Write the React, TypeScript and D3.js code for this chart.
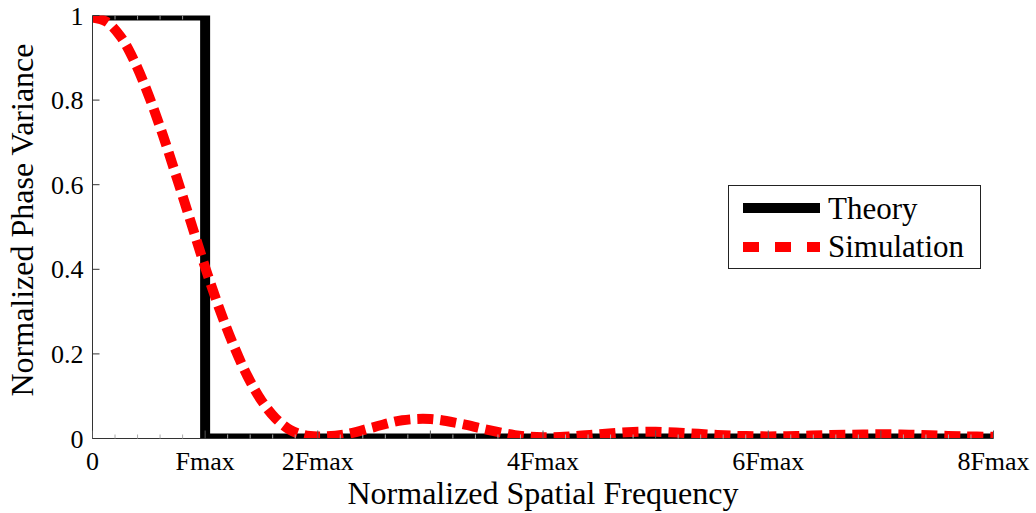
import React from "react";
import * as d3 from "d3";

const W = 1036;
const H = 513;

// Theory: ideal low-pass (1 up to Fmax, 0 beyond)
const theoryX = [0, 1, 1, 8];
const theoryY = [1, 1, 0, 0];

// Simulation, x in units of Fmax
const simX = [0, 0.125, 0.25, 0.375, 0.5, 0.625, 0.75, 0.875, 1.0, 1.125, 1.25, 1.375, 1.5, 1.625, 1.75, 1.875, 2.0,
  2.25, 2.5, 2.75, 3.0, 3.25, 3.5, 3.75, 4.0, 4.25, 4.5, 4.75, 5.0, 5.25, 5.5, 5.75, 6.0, 6.25, 6.5, 6.75, 7.0, 7.25, 7.5, 7.75, 8.0];
const simY = [0.995, 0.985, 0.95, 0.89, 0.81, 0.717, 0.615, 0.51, 0.405, 0.308, 0.222, 0.148, 0.09, 0.048, 0.021, 0.008, 0.005,
  0.01, 0.027, 0.043, 0.046, 0.036, 0.021, 0.008, 0.003, 0.005, 0.01, 0.015, 0.016, 0.013, 0.009, 0.006, 0.005, 0.006, 0.008, 0.009, 0.01, 0.009, 0.007, 0.005, 0.004];

const xTickVals = [0, 1, 2, 4, 6, 8];
const xTickLabels = ["0", "Fmax", "2Fmax", "4Fmax", "6Fmax", "8Fmax"];
const yTickVals = [0, 0.2, 0.4, 0.6, 0.8, 1];
const yTickLabels = ["0", "0.2", "0.4", "0.6", "0.8", "1"];

const legendLabels = ["Theory", "Simulation"];

const FONT = "'Liberation Serif', 'Times New Roman', serif";

export default function App() {
  const left = 92.5, right = 993.5, top = 15.5, bottom = 438.5;
  const x = d3.scaleLinear().domain([0, 8]).range([left, right]);
  const y = d3.scaleLinear().domain([0, 1]).range([bottom, top]);

  const line = d3.line<[number, number]>().x((d) => x(d[0])).y((d) => y(d[1]));
  const simLine = d3
    .line<[number, number]>()
    .x((d) => x(d[0]))
    .y((d) => y(d[1]))
    .curve(d3.curveCatmullRom);

  const theoryPts = theoryX.map((v, i) => [v, theoryY[i]] as [number, number]);
  const simPts = simX.map((v, i) => [v, simY[i]] as [number, number]);

  const minorX = d3.range(0, 8.0001, 0.2).filter((v) => Math.abs(v - Math.round(v)) > 1e-6);
  const majorX = d3.range(0, 9, 1);

  return (
    <svg width={W} height={H} style={{ position: "absolute", left: 0, top: 0, background: "#fff" }}>
      <defs>
        <clipPath id="plotclip">
          <rect x={left} y={top} width={right - left} height={bottom - top} />
        </clipPath>
      </defs>
      <rect x={0} y={0} width={W} height={H} fill="#fff" />

      <g clipPath="url(#plotclip)">
        <path d={line(theoryPts) || ""} fill="none" stroke="#000" strokeWidth={10} strokeLinejoin="miter" />
        <path d={simLine(simPts) || ""} fill="none" stroke="#ff0000" strokeWidth={10} strokeDasharray="16,7" />
      </g>

      {/* axes */}
      <line x1={left} y1={top} x2={left} y2={bottom} stroke="#333" strokeWidth={1} />
      <line x1={left} y1={bottom} x2={right} y2={bottom} stroke="#333" strokeWidth={1} />

      {/* bottom ticks */}
      {majorX.map((v) => (
        <line key={"mx" + v} x1={x(v)} x2={x(v)} y1={bottom} y2={bottom - 8} stroke="#555" strokeWidth={1} />
      ))}
      {minorX.map((v, i) => (
        <line key={"nx" + i} x1={x(v)} x2={x(v)} y1={bottom} y2={bottom - 4} stroke="#aaa" strokeWidth={1} />
      ))}
      {/* top ticks over the theory bar */}
      {minorX.filter((v) => v < 1).map((v, i) => (
        <line key={"tnx" + i} x1={x(v)} x2={x(v)} y1={top} y2={top + 4} stroke="#999" strokeWidth={1} />
      ))}

      {/* y ticks */}
      {yTickVals.map((v) => (
        <line key={"yt" + v} x1={left} x2={left + 7} y1={y(v)} y2={y(v)} stroke="#333" strokeWidth={1} />
      ))}
      {yTickVals.map((v, i) => (
        <text key={"yl" + v} x={left - 9} y={y(v) + 9} textAnchor="end" fontFamily={FONT} fontSize={26} fill="#000">
          {yTickLabels[i]}
        </text>
      ))}
      {xTickVals.map((v, i) => (
        <text key={"xl" + v} x={x(v)} y={470} textAnchor="middle" fontFamily={FONT} fontSize={26} fill="#000">
          {xTickLabels[i]}
        </text>
      ))}

      {/* axis titles */}
      <text x={(left + right) / 2} y={504} textAnchor="middle" fontFamily={FONT} fontSize={32} fill="#000">
        Normalized Spatial Frequency
      </text>
      <text
        transform={`translate(33, 220) rotate(-90)`}
        textAnchor="middle"
        fontFamily={FONT}
        fontSize={32}
        fill="#000"
      >
        Normalized Phase Variance
      </text>

      {/* legend */}
      <rect x={728.5} y={185.5} width={252} height={83} fill="#fff" stroke="#222" strokeWidth={1} />
      <line x1={743} x2={820} y1={208} y2={208} stroke="#000" strokeWidth={10} />
      <line x1={743} x2={820} y1={247} y2={247} stroke="#ff0000" strokeWidth={10} strokeDasharray="16,16" />
      <text x={828} y={219} fontFamily={FONT} fontSize={31} fill="#000">{legendLabels[0]}</text>
      <text x={828} y={257} fontFamily={FONT} fontSize={31} fill="#000">{legendLabels[1]}</text>
    </svg>
  );
}
